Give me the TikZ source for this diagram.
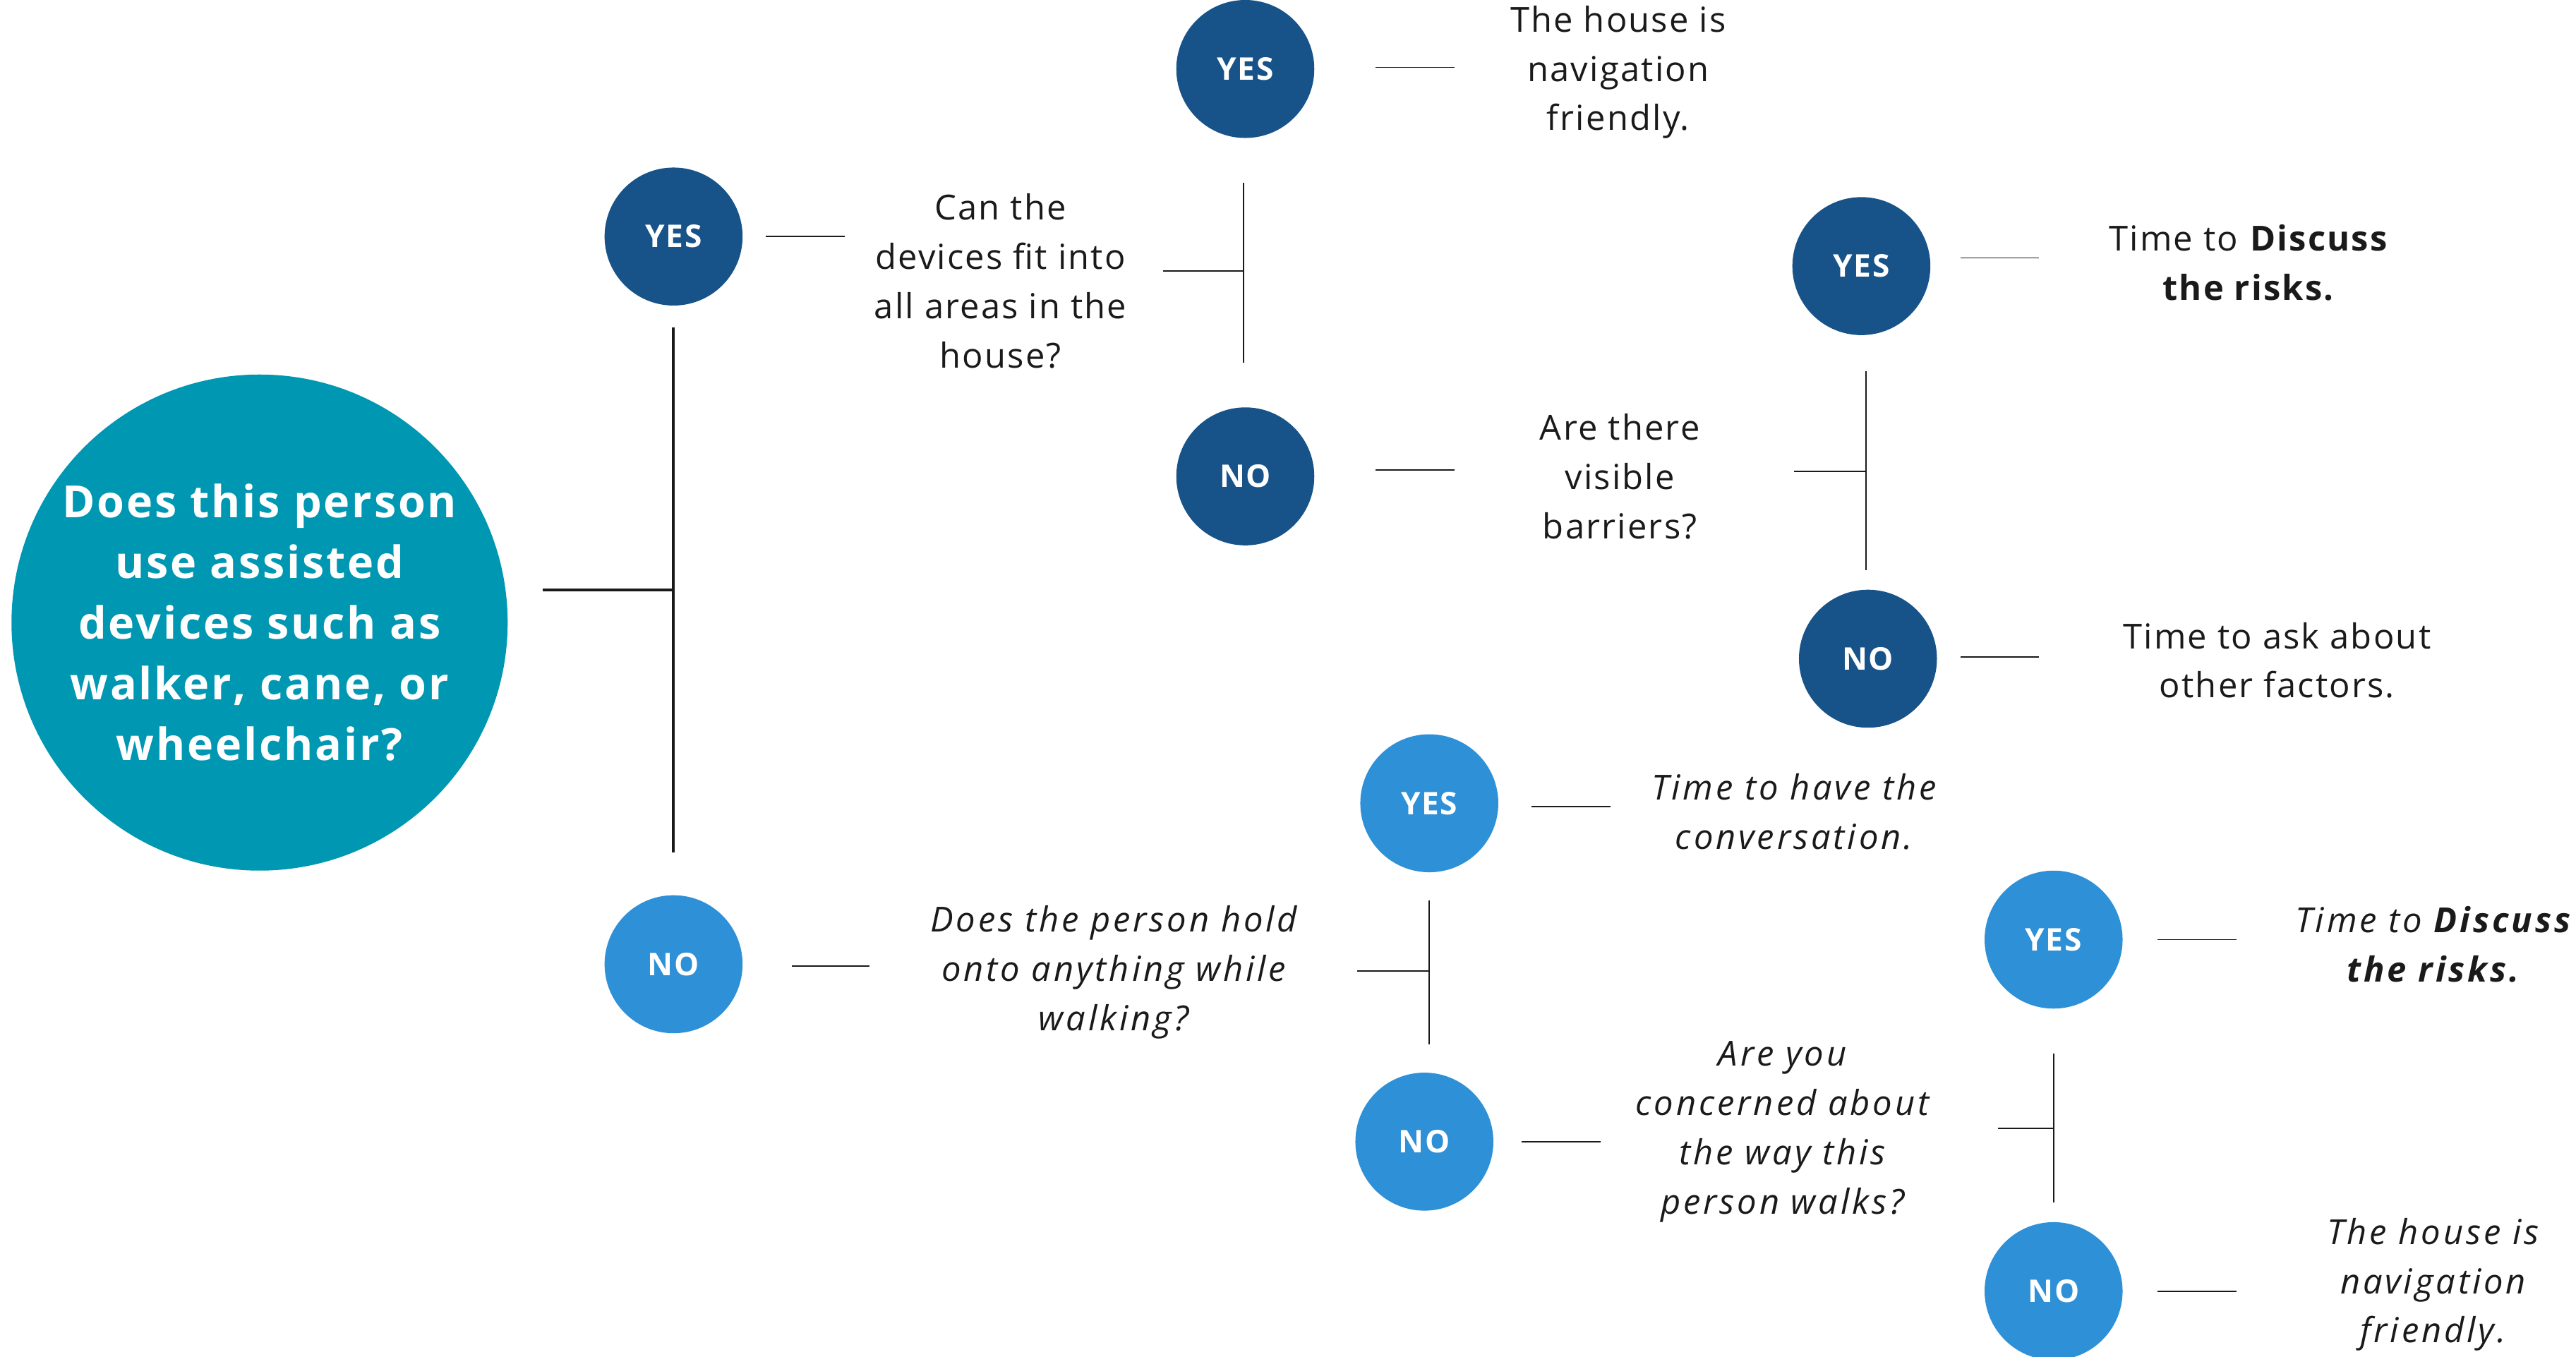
\documentclass[tikz,border=0pt]{standalone}
\usepackage{fontspec}
\setmainfont{Open Sans}
\usetikzlibrary{calc}
\definecolor{teal0}{HTML}{0097B2}
\definecolor{dkblue}{HTML}{175388}
\definecolor{ltblue}{HTML}{2E90D6}
\definecolor{txt}{HTML}{1A1A1A}
\tikzset{
  bigq/.style={circle, fill=teal0, minimum size=302pt, inner sep=0pt, text=white, align=center,
    font=\fontsize{27}{37}\selectfont\bfseries\addfontfeature{LetterSpace=4.5}},
  ans/.style={circle, minimum size=84pt, inner sep=0pt, text=white, font=\fontsize{19}{22}\selectfont\bfseries\addfontfeature{LetterSpace=4}},
  dk/.style={ans, fill=dkblue},
  lt/.style={ans, fill=ltblue},
  lbl/.style={align=center, text=txt, inner sep=0pt, font=\fontsize{21}{30}\selectfont\addfontfeature{LetterSpace=4.5}},
  ilbl/.style={lbl, font=\fontsize{21}{30}\selectfont\itshape\addfontfeature{LetterSpace=8}},
  thinln/.style={draw=txt, line width=0.8pt},
  thickln/.style={draw=txt, line width=1.7pt}
}
\begin{document}
\begin{tikzpicture}[x=1pt,y=-1pt]
\useasboundingbox (0,0) rectangle (1568,826);
% root
\node[bigq] (q0) at (158,379) {Does this person\\use assisted\\devices such as\\walker, cane, or\\wheelchair?};
\node[dk] (y1) at (410,144) {YES};
\node[lt] (n1) at (410,587) {NO};
\coordinate (j0) at (409,359);
\draw[thickln] ($(q0.east)+(21,-20)$) -- (j0);
\draw[thickln] ($(y1.south)+(0,13)$) -- ($(n1.north)+(0,-26)$);
% upper branch
\node[lbl] (q1) at (609,171) {Can the\\devices fit into\\all areas in the\\house?};
\draw[thinln] ($(y1.east)+(14,0)$) -- ++(48,0);
\node[dk] (y2) at (758,42) {YES};
\node[dk] (n2) at (758,290) {NO};
\coordinate (j1) at (757,165);
\draw[thinln] (j1) -- ++(-49,0);
\draw[thinln] ($(y2.south)+(-1,27)$) -- ($(n2.north)+(-1,-27)$);
\node[lbl] (r1) at (985,44) {The house is\\navigation\\friendly.};
\draw[thinln] ($(y2.east)+(37,-1)$) -- ++(48,0);
\node[lbl] (q2) at (986,290) {Are there\\visible\\barriers?};
\draw[thinln] ($(n2.east)+(37,-4)$) -- ++(48,0);
\node[dk] (y3) at (1133,162) {YES};
\node[dk] (n3) at (1137,401) {NO};
\coordinate (j2) at (1136,287);
\draw[thinln] (j2) -- ++(-44,0);
\draw[thinln] (1136,226) -- (1136,347);
\node[lbl] (r2) at (1369,160) {Time to \textbf{Discuss}\\\textbf{the risks.}};
\draw[thinln] ($(y3.east)+(18,-5)$) -- ++(48,0);
\node[lbl] (r3) at (1386,402) {Time to ask about\\other factors.};
\draw[thinln] ($(n3.east)+(14,-1)$) -- ++(48,0);
% lower branch
\node[ilbl] (q3) at (678,592) {Does the person hold\\onto anything while\\walking?};
\draw[thinln] ($(n1.east)+(30,1)$) -- ++(47,0);
\node[lt] (y4) at (870,489) {YES};
\node[lt] (n4) at (867,695) {NO};
\coordinate (j3) at (870,591);
\draw[thinln] (j3) -- ++(-44,0);
\draw[thinln] ($(y4.south)+(0,17)$) -- (870,636);
\node[ilbl] (r4) at (1092,494) {Time to have the\\conversation.};
\draw[thinln] ($(y4.east)+(20,2)$) -- ++(48,0);
\node[ilbl] (q4) at (1085,689) {Are you\\concerned about\\the way this\\person walks?};
\draw[thinln] ($(n4.east)+(17,0)$) -- ++(48,0);
\node[lt] (y5) at (1250,572) {YES};
\node[lt] (n5) at (1250,786) {NO};
\coordinate (j4) at (1250,687);
\draw[thinln] (j4) -- ++(-34,0);
\draw[thinln] ($(y5.south)+(0,27)$) -- ($(n5.north)+(0,-12)$);
\node[ilbl] (r5) at (1481,575) {Time to \textbf{Discuss}\\\textbf{the risks.}};
\draw[thinln] ($(y5.east)+(21,0)$) -- ++(48,0);
\node[ilbl] (r6) at (1481,782) {The house is\\navigation\\friendly.};
\draw[thinln] ($(n5.east)+(21,0)$) -- ++(48,0);
\end{tikzpicture}
\end{document}
